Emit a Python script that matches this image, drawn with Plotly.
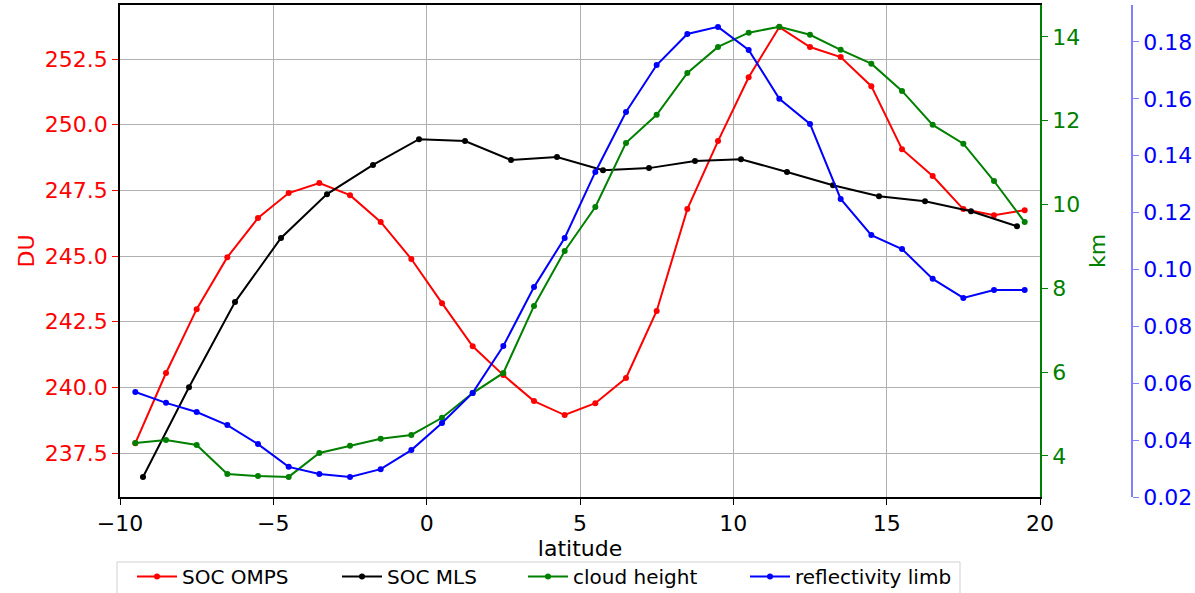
import plotly.graph_objects as go

# ---- data ----
lat_half = [-9.5, -8.5, -7.5, -6.5, -5.5, -4.5, -3.5, -2.5, -1.5, -0.5,
            0.5, 1.5, 2.5, 3.5, 4.5, 5.5, 6.5, 7.5, 8.5, 9.5,
            10.5, 11.5, 12.5, 13.5, 14.5, 15.5, 16.5, 17.5, 18.5, 19.5]
soc_omps = [237.88, 240.55, 242.98, 244.96, 246.45, 247.40, 247.78, 247.32, 246.30, 244.89,
            243.21, 241.57, 240.47, 239.48, 238.95, 239.40, 240.36, 242.91, 246.79, 249.38,
            251.81, 253.72, 252.96, 252.58, 251.47, 249.07, 248.05, 246.79, 246.56, 246.75]
lat_mls = [-9.25, -7.75, -6.25, -4.75, -3.25, -1.75, -0.25, 1.25, 2.75, 4.25,
           5.75, 7.25, 8.75, 10.25, 11.75, 13.25, 14.75, 16.25, 17.75, 19.25]
soc_mls = [236.59, 240.01, 243.25, 245.69, 247.36, 248.47, 249.45, 249.38, 248.66, 248.77,
           248.27, 248.35, 248.62, 248.69, 248.20, 247.70, 247.28, 247.09, 246.71, 246.14]
cloud_height = [4.31, 4.38, 4.26, 3.57, 3.52, 3.50, 4.07, 4.24, 4.41, 4.50,
                4.91, 5.50, 5.98, 7.58, 8.89, 9.94, 11.47, 12.14, 13.14, 13.76,
                14.10, 14.24, 14.05, 13.69, 13.36, 12.71, 11.90, 11.45, 10.56, 9.58]
reflectivity = [0.0569, 0.0531, 0.0499, 0.0453, 0.0386, 0.0306, 0.0281, 0.0270, 0.0298, 0.0365,
                0.0460, 0.0566, 0.0731, 0.0938, 0.1111, 0.1343, 0.1554, 0.1719, 0.1828, 0.1853,
                0.1772, 0.1600, 0.1512, 0.1248, 0.1121, 0.1072, 0.0967, 0.0900, 0.0928, 0.0928]

du_ticks = [237.5, 240.0, 242.5, 245.0, 247.5, 250.0, 252.5]
km_ticks = [4, 6, 8, 10, 12, 14]
refl_ticks = [0.02, 0.04, 0.06, 0.08, 0.10, 0.12, 0.14, 0.16, 0.18]
x_ticks = [-10, -5, 0, 5, 10, 15, 20]
series_names = ["SOC OMPS", "SOC MLS", "cloud height", "reflectivity limb"]

FONT = "DejaVu Sans"
W, H = 1195, 593
L, R_PLOT, T, B = 120, 1040, 5, 497
plot_w = W - L
plot_h = B - T
xdom_end = (R_PLOT - L) / plot_w
blue_pos = (1132 - L) / plot_w


def px_x(px):
    return (px - L) / plot_w


def px_y(py):
    return (B - py) / plot_h


fig = go.Figure()
mk = dict(size=6)
legend_ids = ["legend", "legend2", "legend3", "legend4"]
series = [
    (lat_half, soc_omps, "red", "y"),
    (lat_mls, soc_mls, "black", "y"),
    (lat_half, cloud_height, "green", "y2"),
    (lat_half, reflectivity, "blue", "y3"),
]
for (xs, ys, col, yax), name, lg in zip(series, series_names, legend_ids):
    fig.add_trace(go.Scatter(x=xs, y=ys, mode="lines+markers", name=name,
                             line=dict(color=col, width=2), marker=dict(color=col, **mk),
                             xaxis="x", yaxis=yax, legend=lg))

# legend text start positions (pixels) as in the reference
text_starts = [181, 386, 572, 794]
legend_layout = {}
for lg, ts in zip(legend_ids, text_starts):
    legend_layout[lg] = dict(orientation="h", x=px_x(ts - 49), xanchor="left",
                             y=px_y(557), yanchor="top", borderwidth=0,
                             bgcolor="rgba(0,0,0,0)",
                             font=dict(family=FONT, size=20, color="black"),
                             itemwidth=40)

fig.update_layout(
    width=W, height=H,
    margin=dict(l=L, r=0, t=T, b=H - B, pad=0, autoexpand=False),
    paper_bgcolor="white", plot_bgcolor="white",
    font=dict(family=FONT, size=22, color="black"),
    showlegend=True,
    xaxis=dict(domain=[0, xdom_end], range=[-10, 20], tickvals=x_ticks,
               ticktext=["\u221210", "\u22125", "0", "5", "10", "15", "20"],
               showline=True, linecolor="black", linewidth=1.5, mirror=True,
               ticks="outside", ticklen=6, tickcolor="black",
               showgrid=True, gridcolor="#b0b0b0", gridwidth=1, zeroline=False,
               title=dict(text="latitude", standoff=2, font=dict(size=22)),
               tickfont=dict(size=22, color="black"), automargin=False),
    yaxis=dict(range=[235.83, 254.56], tickvals=du_ticks,
               ticktext=[f"{v:.1f}" for v in du_ticks],
               showline=True, linecolor="black", linewidth=1.5,
               ticks="outside", ticklen=6, tickcolor="red",
               showgrid=True, gridcolor="#b0b0b0", gridwidth=1, zeroline=False,
               tickfont=dict(size=22, color="red"), automargin=False,
               title=dict(text="DU", standoff=4, font=dict(size=22, color="red"))),
    yaxis2=dict(range=[3.02, 14.76], tickvals=km_ticks, overlaying="y", side="right",
                anchor="x", showline=True, linecolor="green", linewidth=1.5,
                ticks="outside", ticklen=6, tickcolor="green", showgrid=False, zeroline=False,
                tickfont=dict(size=22, color="green"), automargin=False,
                title=dict(text="km", standoff=10, font=dict(size=22, color="green"))),
    yaxis3=dict(range=[0.02, 0.193], tickvals=refl_ticks,
                ticktext=[f"{v:.2f}" for v in refl_ticks],
                overlaying="y", side="right", anchor="free", position=blue_pos,
                showline=True, linecolor="rgba(0,0,255,0.5)", linewidth=1.5,
                ticks="outside", ticklen=6, tickcolor="rgba(0,0,255,0.5)",
                showgrid=False, zeroline=False, automargin=False,
                tickfont=dict(size=22, color="blue")),
    **legend_layout,
)

# legend frame (bottom cut off by the page edge, as in the reference)
fig.add_shape(type="rect", xref="paper", yref="paper",
              x0=px_x(117), x1=px_x(960), y0=px_y(562), y1=px_y(610),
              line=dict(color="#d0d0d0", width=1), fillcolor="rgba(0,0,0,0)", layer="below")

# title (its upper part lies above the page, as in the reference)
fig.add_annotation(text="Zonal mean SOC averaged over the Atlantic and cloud top, reflectivity along",
                   xref="paper", yref="paper", x=px_x(580), xanchor="center",
                   y=1 + (T + 12) / plot_h, yanchor="middle", showarrow=False,
                   font=dict(family=FONT, size=22, color="black"))

fig.write_html("out.html")
